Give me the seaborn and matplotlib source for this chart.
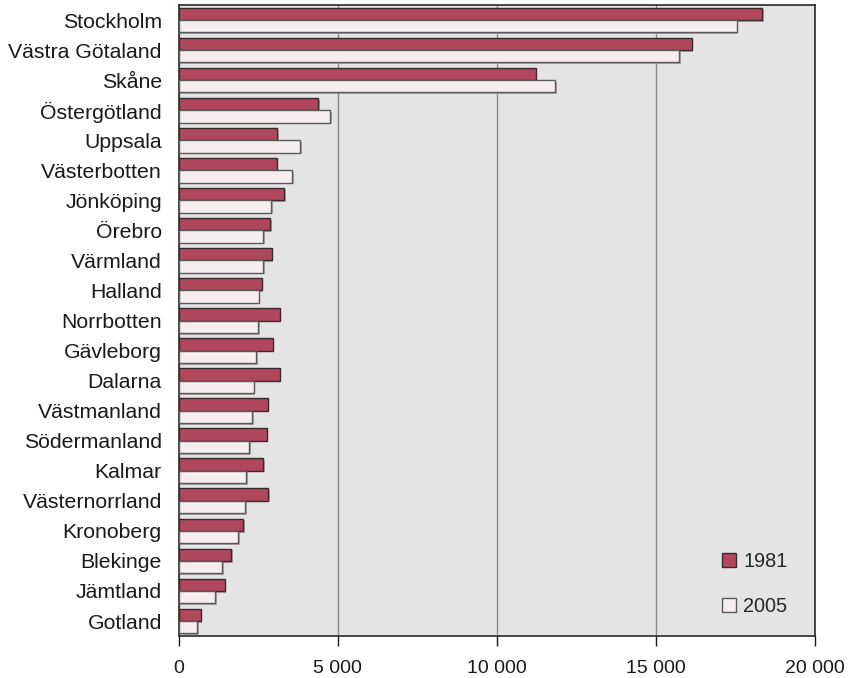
import matplotlib
matplotlib.use('Agg')
import matplotlib.pyplot as plt
import matplotlib.patheffects as pe
from matplotlib.ticker import FuncFormatter
from matplotlib.patches import Patch
import seaborn as sns
import pandas as pd

regions = ['Stockholm', 'Västra Götaland', 'Skåne', 'Östergötland', 'Uppsala',
           'Västerbotten', 'Jönköping', 'Örebro', 'Värmland', 'Halland',
           'Norrbotten', 'Gävleborg', 'Dalarna', 'Västmanland', 'Södermanland',
           'Kalmar', 'Västernorrland', 'Kronoberg', 'Blekinge', 'Jämtland', 'Gotland']
y1981 = [18330, 16130, 11220, 4380, 3100, 3080, 3330, 2890, 2930, 2610,
         3180, 2960, 3180, 2800, 2770, 2660, 2820, 2030, 1660, 1450, 700]
y2005 = [17540, 15730, 11830, 4760, 3830, 3570, 2920, 2670, 2670, 2520,
         2510, 2430, 2360, 2320, 2210, 2120, 2100, 1870, 1380, 1150, 580]
years = ['1981', '2005']
colors = ['#B0475E', '#F6EDEF']
edges = ['#3a2a2e', '#5a5a5a']

df = pd.DataFrame({
    'region': regions * 2,
    'value': y1981 + y2005,
    'year': [years[0]] * len(regions) + [years[1]] * len(regions),
})

sns.set_style('white')
plt.rcParams['font.family'] = ['Liberation Sans', 'DejaVu Sans']

fig = plt.figure(figsize=(8.55, 6.78), dpi=100)
ax = fig.add_axes([0.2088, 0.0619, 0.9532 - 0.2088, 0.9926 - 0.0619])
ax.set_facecolor('#E4E4E4')

sns.barplot(data=df, y='region', x='value', hue='year', order=regions,
            hue_order=years, palette=colors, width=0.82, orient='h',
            saturation=1, ax=ax, legend=False, zorder=3)

n = len(regions)
for i, bar in enumerate(ax.patches):
    k = 0 if i < n else 1
    bar.set_edgecolor(edges[k])
    bar.set_linewidth(1.0)
    bar.set_path_effects([pe.SimplePatchShadow(offset=(1.2, -1.2), shadow_rgbFace='#9a9a9a', alpha=0.8),
                          pe.Normal()])

ax.set_xlim(0, 20000)
ax.set_ylim(n - 0.5, -0.5)
ax.set_xticks([0, 5000, 10000, 15000, 20000])
ax.xaxis.set_major_formatter(FuncFormatter(lambda v, p: f'{int(v):,}'.replace(',', ' ')))
ax.grid(axis='x', color='#8a8a8a', linewidth=1.0, zorder=0)
ax.set_axisbelow(True)
ax.set_xlabel('')
ax.set_ylabel('')

for s in ax.spines.values():
    s.set_color('#2a2a2a')
    s.set_linewidth(1.2)

ax.tick_params(axis='y', length=0, labelsize=15.3, pad=12, colors='#1a1a1a')
ax.tick_params(axis='x', length=7, width=1, direction='out', labelsize=14,
               pad=10, colors='#1a1a1a', bottom=True)

handles = [Patch(facecolor=colors[k], edgecolor=edges[k], label=years[k]) for k in range(2)]
ax.legend(handles=handles, loc='lower right', bbox_to_anchor=(0.985, 0.004),
          frameon=False, fontsize=14.3, handlelength=0.7, handleheight=0.7,
          handletextpad=0.35, labelspacing=1.3)

plt.savefig('out.png', dpi=100)
